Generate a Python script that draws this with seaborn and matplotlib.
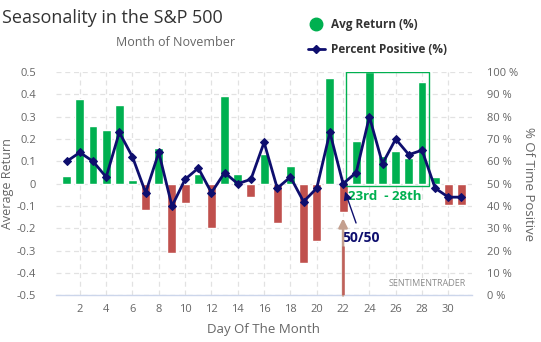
import matplotlib
matplotlib.use('Agg')
import matplotlib.pyplot as plt
from matplotlib.lines import Line2D
from matplotlib.patches import Rectangle
import seaborn as sns
import pandas as pd

days = list(range(1, 32))
avg_return = [0.033, 0.378, 0.257, 0.239, 0.351, 0.015, -0.119, 0.158, -0.31, -0.084,
              0.042, -0.199, 0.391, 0.045, -0.06, 0.131, -0.176, 0.081, -0.354, -0.257,
              0.475, -0.127, 0.19, 0.5, 0.124, 0.145, 0.115, 0.454, 0.028, -0.096, -0.096]
pct_positive = [60, 64, 60, 53, 73, 62, 46, 64, 40, 52, 57, 46, 55, 50, 52, 68.5, 48, 53,
                42, 48, 73, 50, 55, 80, 59, 70, 63, 65, 48, 44, 44]
x_ticks = list(range(2, 31, 2))
left_ticks = [-0.5, -0.4, -0.3, -0.2, -0.1, 0, 0.1, 0.2, 0.3, 0.4, 0.5]
left_labels = ['-0.5', '-0.4', '-0.3', '-0.2', '-0.1', '0', '0.1', '0.2', '0.3', '0.4', '0.5']
right_ticks = list(range(0, 101, 10))
right_labels = [f'{v} %' for v in right_ticks]

GREEN = '#00b050'
RED = '#c0504d'
NAVY = '#0e0e6e'
GRID = '#e2e2e2'
TXT = '#666666'

sns.set_theme(style='white')
plt.rcParams['font.family'] = ['Open Sans', 'DejaVu Sans']

df = pd.DataFrame({'day': days, 'ret': avg_return, 'pct': pct_positive})
df['sign'] = ['pos' if v >= 0 else 'neg' for v in avg_return]

fig = plt.figure(figsize=(5.41, 3.42), dpi=100)
ax = fig.add_axes([0.1026, 0.136, 0.7699, 0.6535])

sns.barplot(data=df, x='day', y='ret', hue='sign', palette={'pos': GREEN, 'neg': RED},
            native_scale=True, dodge=False, width=0.68, saturation=1, legend=False, ax=ax)

ax.set_xlim(0.15, 31.8)
ax.set_ylim(-0.5, 0.5)
ax.set_xticks(x_ticks)
ax.set_xticklabels([str(t) for t in x_ticks])
ax.set_yticks(left_ticks)
ax.set_yticklabels(left_labels)
ax.grid(True, color=GRID, linestyle=(0, (4, 3)), linewidth=0.9)
ax.set_axisbelow(True)
for s in ['top', 'left', 'right']:
    ax.spines[s].set_visible(False)
ax.spines['bottom'].set_color('#ccd6eb')
ax.spines['bottom'].set_linewidth(1)
ax.tick_params(axis='both', length=0, labelsize=8, labelcolor=TXT)
ax.tick_params(axis='x', pad=6)
ax.tick_params(axis='y', pad=14)
ax.set_xlabel('Day Of The Month', fontsize=9.5, color=TXT, labelpad=6)
ax.set_ylabel('Average Return', fontsize=9, color=TXT, labelpad=2)

ax2 = ax.twinx()
sns.lineplot(data=df, x='day', y='pct', ax=ax2, color=NAVY, linewidth=2, marker='D',
             markersize=4.5, markeredgecolor=NAVY, markerfacecolor=NAVY)
ax2.set_ylim(0, 100)
ax2.set_yticks(right_ticks)
ax2.set_yticklabels(right_labels)
ax2.tick_params(axis='y', length=0, labelsize=8, labelcolor=TXT, pad=11)
ax2.set_ylabel('% Of Time Positive', fontsize=9.5, color=TXT, rotation=270, labelpad=12)
for s in ['top', 'left', 'right', 'bottom']:
    ax2.spines[s].set_visible(False)
ax2.grid(False)

# highlighted window
ax.add_patch(Rectangle((22.2, -0.012), 6.3, 0.512, fill=False, edgecolor=GREEN, linewidth=1, zorder=5))
ax.text(25.2, -0.057, '23rd  - 28th', color=GREEN, fontsize=9.5, fontweight='bold',
        ha='center', va='center')

# 50/50 annotation
ax.annotate('50/50', xy=(22.15, -0.035), xytext=(23.4, -0.245), color=NAVY, fontsize=10,
            fontweight='bold', ha='center', va='center',
            arrowprops=dict(arrowstyle='-|>', color=NAVY, lw=1, mutation_scale=12, shrinkA=4, shrinkB=0))

# vertical arrow at day 22 (tan upper shaft, red lower shaft)
ax.annotate('', xy=(22, -0.155), xytext=(22, -0.5),
            arrowprops=dict(arrowstyle='-|>', color='#c4a08f', lw=1.8, mutation_scale=13,
                            shrinkA=0, shrinkB=0, facecolor='#c7675d', edgecolor='#c7675d'))
ax.plot([22, 22], [-0.5, -0.28], color='#c0605a', linewidth=1.8, solid_capstyle='butt', zorder=3)

ax.text(0.985, 0.055, 'SENTIMENTRADER', transform=ax.transAxes, fontsize=6.5, color='#8c8c8c',
        ha='right', va='center')

# title & subtitle
fig.text(0.004, 0.948, 'Seasonality in the S&P 500', fontsize=13, color='#333333', ha='left', va='center')
fig.text(0.434, 0.877, 'Month of November', fontsize=9, color=TXT, ha='right', va='center')

handles = [Line2D([0], [0], marker='o', color='none', markerfacecolor=GREEN, markeredgecolor=GREEN, markersize=9),
           Line2D([0], [0], color=NAVY, linewidth=2, marker='D', markersize=4)]
fig.legend(handles, ['Avg Return (%)', 'Percent Positive (%)'], loc='upper left',
           bbox_to_anchor=(0.552, 0.975), frameon=False, handlelength=1.4, handletextpad=0.5,
           labelspacing=1.0, borderpad=0.3, prop={'weight': 'bold', 'size': 8.5},
           labelcolor='#333333')

fig.savefig('out.png', dpi=100)
